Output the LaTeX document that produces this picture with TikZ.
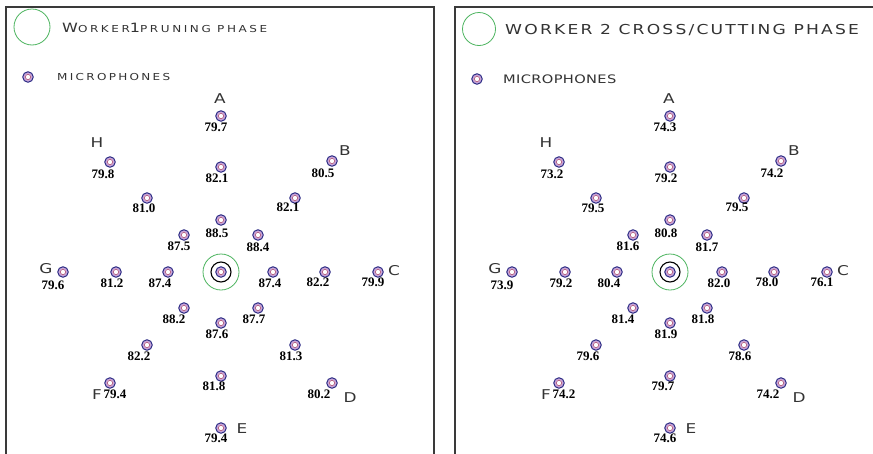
\documentclass[tikz,border=0pt]{standalone}
\usepackage{fontspec}
\setmainfont{Liberation Serif}
\newfontfamily\legA[FakeStretch=1.25,LetterSpace=27]{DejaVu Sans}
\newfontfamily\legM[FakeStretch=1.25,LetterSpace=24]{DejaVu Sans}
\newfontfamily\legB[FakeStretch=1.25,LetterSpace=16]{DejaVu Sans}
\newfontfamily\legC[FakeStretch=1.25,LetterSpace=3]{DejaVu Sans}
\newfontfamily\ltrfont[FakeStretch=1.25]{DejaVu Sans}
\definecolor{micfill}{HTML}{C9A6D8}
\definecolor{micedge}{HTML}{2E2E86}
\definecolor{micinner}{HTML}{B0506E}
\definecolor{zonegreen}{HTML}{4DB560}
\definecolor{txtgray}{HTML}{333333}
\definecolor{framegray}{HTML}{3A3A3A}
\tikzset{
  mic/.style={circle, minimum size=10.5pt, inner sep=0pt, fill=micfill, draw=micedge, line width=1pt,
    path picture={\draw[micinner, fill=white, line width=0.5pt] (path picture bounding box.center) circle (2.6pt);}},
  val/.style={font=\fontsize{13}{13}\selectfont\bfseries, inner sep=0pt, text=black},
  ltr/.style={font=\ltrfont\fontsize{13.5}{13.5}\selectfont, text=txtgray, inner sep=0pt},
  zone/.style={circle, draw=zonegreen, line width=0.8pt, inner sep=0pt, minimum size=36pt},
  ringbox/.style={circle, draw=black, line width=1.1pt, inner sep=0pt, minimum size=20pt},
  panelbox/.style={draw=framegray, line width=1.4pt},
  legtext/.style={inner sep=0pt, anchor=base west, text=txtgray}
}
\begin{document}
\begin{tikzpicture}[x=1pt,y=-1pt]
\useasboundingbox (0,0) rectangle (873,453);
\fill[white] (0,0) rectangle (873,453);
% ---------- left panel ----------
\begin{scope}[name prefix=L-]
\draw[panelbox] (6,462) -- (6,7) -- (434,7) -- (434,462);
\node[zone, minimum size=36pt] (legzone) at (32,27) {};
\node[legtext] (title) at (62,32) {\legA\fontsize{12.8}{12}\selectfont W\fontsize{9.6}{10}\selectfont ORKER\fontsize{12.8}{12}\selectfont 1\fontsize{9.6}{10}\selectfont PRUNING PHASE};
\node[mic] (legmic) at (28,77) {};
\node[legtext] (legmictext) at (57,80.5) {\legM\fontsize{9.6}{10}\selectfont MICROPHONES};
\node[mic] (src) at (221,272) {};
\node[ringbox] (ring) at (src) {};
\node[zone] (zone) at (src) {};
\foreach \n/\mx/\my/\tx/\ty/\v in {
A3/221/116/216/127/79.7, A2/221/167/217/178/82.1, A1/221/220/217/233/88.5,
B1/258/235/258/247/88.4, B2/295/198/288/207/82.1, B3/332/161/323/173/80.5,
C1/273/272/270/283/87.4, C2/325/272/318/282/82.2, C3/378/272/373/282/79.9,
D1/258/308/254/319/87.7, D2/295/345/291/356/81.3, D3/332/383/319/394/80.2,
E1/221/323/217/334/87.6, E2/221/376/214/386/81.8, E3/221/428/216/438/79.4,
F1/184/308/174/319/88.2, F2/147/345/139/356/82.2, F3/110/383/115/394/79.4,
G1/168/272/160/283/87.4, G2/116/272/112/283/81.2, G3/63/272/53/285/79.6,
H1/184/235/179/246/87.5, H2/147/198/144/208/81.0, H3/110/162/103/174/79.8}{
  \node[mic] (\n) at (\mx,\my) {};
  \node[val] (\n-v) at (\tx,\ty) {\v};
}
\foreach \l/\lx/\ly in {A/220/99, B/345/151, C/394/271, D/350/398, E/242/429, F/97/395, G/46/269, H/97/143}{
  \node[ltr] (lbl\l) at (\lx,\ly) {\l};
}
\end{scope}
% ---------- right panel ----------
\begin{scope}[name prefix=R-]
\draw[panelbox] (455,462) -- (455,7) -- (883,7) -- (883,462);
\node[zone, minimum size=33pt] (legzone) at (479,29) {};
\node[legtext] (title) at (505,34) {\legB\fontsize{13.7}{14}\selectfont WORKER 2 CROSS/CUTTING PHASE};
\node[mic] (legmic) at (477,79) {};
\node[legtext] (legmictext) at (503,83) {\legC\fontsize{11.7}{12}\selectfont MICROPHONES};
\end{scope}
\begin{scope}[shift={(449,0)}, name prefix=R-]
\node[mic] (src) at (221,272) {};
\node[ringbox] (ring) at (src) {};
\node[zone] (zone) at (src) {};
\foreach \n/\mx/\my/\tx/\ty/\v in {
A3/221/116/216/127/74.3, A2/221/167/217/178/79.2, A1/221/220/217/233/80.8,
B1/258/235/258/247/81.7, B2/295/198/288/207/79.5, B3/332/161/323/173/74.2,
C1/273/272/270/283/82.0, C2/325/272/318/282/78.0, C3/378/272/373/282/76.1,
D1/258/308/254/319/81.8, D2/295/345/291/356/78.6, D3/332/383/319/394/74.2,
E1/221/323/217/334/81.9, E2/221/376/214/386/79.7, E3/221/428/216/438/74.6,
F1/184/308/174/319/81.4, F2/147/345/139/356/79.6, F3/110/383/115/394/74.2,
G1/168/272/160/283/80.4, G2/116/272/112/283/79.2, G3/63/272/53/285/73.9,
H1/184/235/179/246/81.6, H2/147/198/144/208/79.5, H3/110/162/103/174/73.2}{
  \node[mic] (\n) at (\mx,\my) {};
  \node[val] (\n-v) at (\tx,\ty) {\v};
}
\foreach \l/\lx/\ly in {A/220/99, B/345/151, C/394/271, D/350/398, E/242/429, F/97/395, G/46/269, H/97/143}{
  \node[ltr] (lbl\l) at (\lx,\ly) {\l};
}
\end{scope}
\end{tikzpicture}
\end{document}
